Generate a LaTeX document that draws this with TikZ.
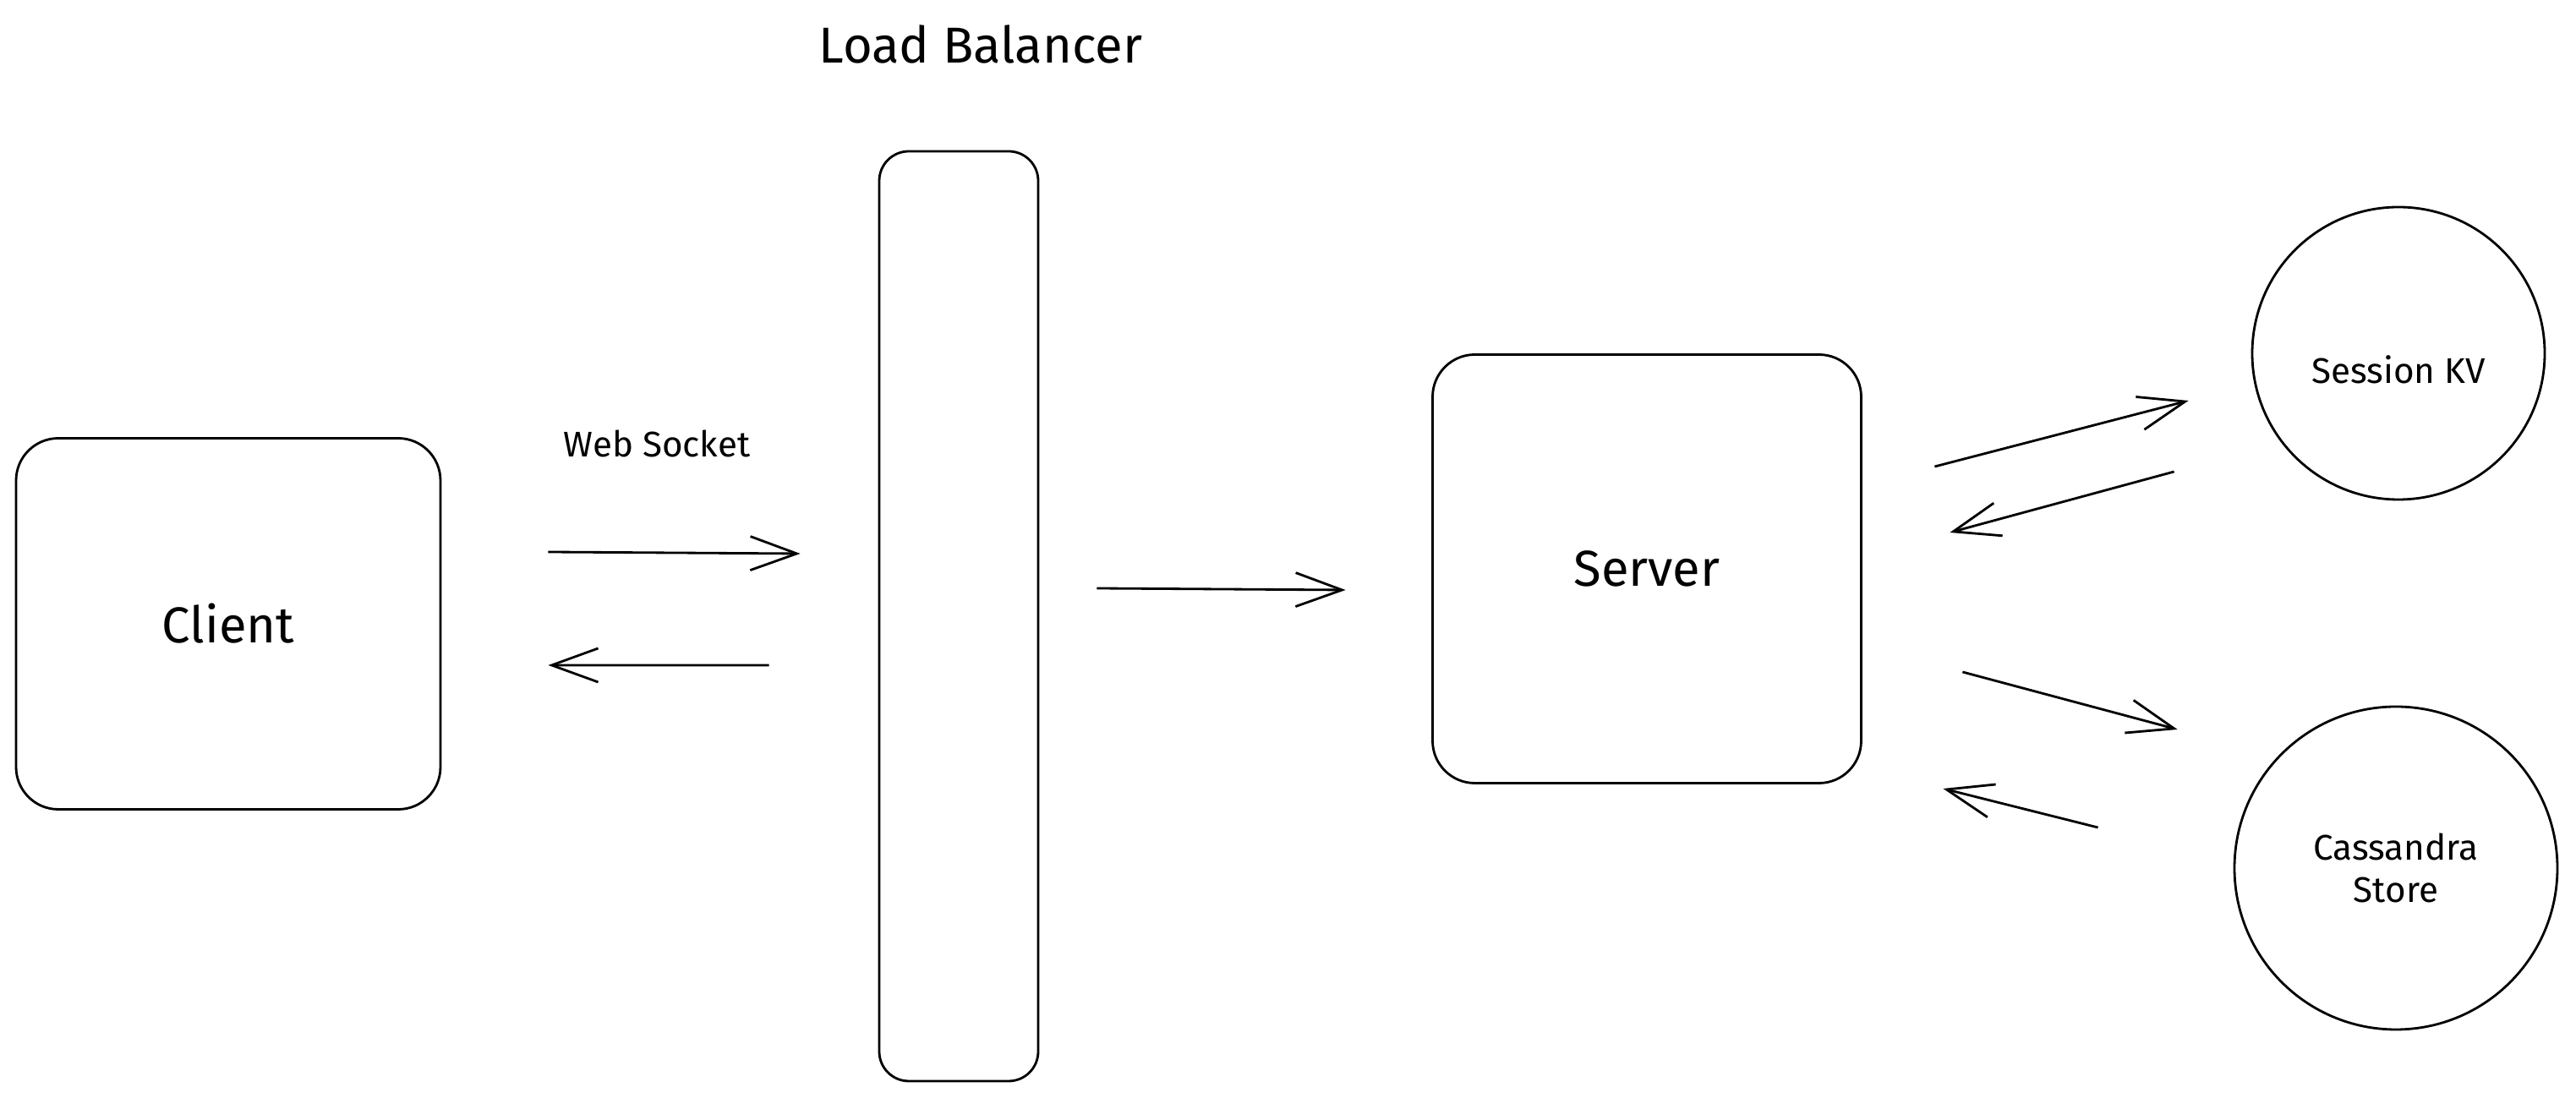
\documentclass[tikz,border=0pt]{standalone}
\usepackage{fontspec}
\setmainfont{Fira Sans}
\usepackage{tikz}
\usetikzlibrary{arrows.meta}

\tikzset{
  box/.style={draw, line width=0.8pt, rounded corners=0.5cm},
  store/.style={draw, line width=0.8pt, circle, align=center},
  flow/.style={line width=0.8pt, -{Straight Barb[length=5.5mm,width=4mm]}},
  big/.style={font=\fontsize{17}{20}\selectfont},
  small/.style={font=\fontsize{12}{14}\selectfont}
}

\begin{document}
\begin{tikzpicture}
    \useasboundingbox (0,0) rectangle (30.47,12.99);
    \node[box, big, minimum width=5.02cm, minimum height=4.39cm] (client) at (2.70,5.61) {Client};
    \node[box, rounded corners=0.35cm, minimum width=1.88cm, minimum height=11cm] (lb) at (11.34,5.70) {};
    \node[big] (lblabel) at (11.60,12.47) {Load Balancer};
    \node[small] (ws) at (7.77,7.74) {Web Socket};
    \node[box, big, minimum width=5.07cm, minimum height=5.07cm] (server) at (19.48,6.26) {Server};
    \node[store, minimum size=3.46cm, label={[small, yshift=-0.19cm]center:Session KV}] (kv) at (28.37,8.81) {};
    \node[store, small, minimum size=3.82cm] (cass) at (28.34,2.72) {Cassandra\\Store};

    % client <-> load balancer
    \draw[flow] ([shift={(1.26,0.85)}]client.east) -- ([shift={(-0.92,0.74)}]lb.west);
    \draw[flow] ([shift={(-1.29,-0.58)}]lb.west) -- ([shift={(1.26,-0.49)}]client.east);
    \draw[flow] ([shift={(0.68,0.33)}]lb.east) -- ([shift={(-1.015,-0.25)}]server.west);
    % server <-> stores
    \draw[flow] ([shift={(0.855,1.21)}]server.east) -- ([shift={(-0.74,-0.56)}]kv.west);
    \draw[flow] ([shift={(-0.91,-1.40)}]kv.west) -- ([shift={(1.035,0.43)}]server.east);
    \draw[flow] ([shift={(1.185,-1.22)}]server.east) -- ([shift={(-0.66,1.64)}]cass.west);
    \draw[flow] ([shift={(-1.60,0.48)}]cass.west) -- ([shift={(0.955,-2.60)}]server.east);
\end{tikzpicture}
\end{document}
